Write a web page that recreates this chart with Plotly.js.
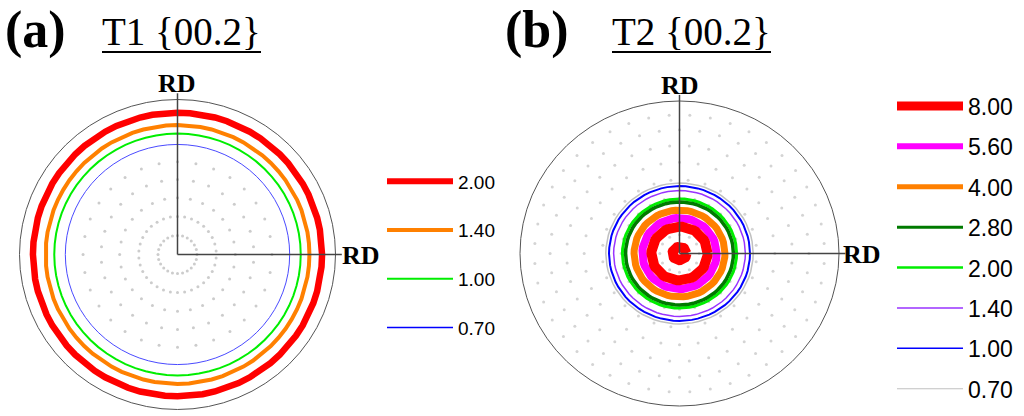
<!DOCTYPE html>
<html><head><meta charset="utf-8">
<script src="https://cdn.plot.ly/plotly-3.0.1.min.js"></script>
<style>html,body{margin:0;padding:0;background:#fff}#chart{width:1024px;height:416px}</style>
</head><body><div id="chart"></div>
<script>
// ---- data: contour levels and ring radii (fraction of the pole-figure radius) ----
const levelsA = ['2.00', '1.40', '1.00', '0.70'];
const ringRadiiA = [[0.915], [0.835], [0.78], [0.71]];
const colorsA = ['#ff0000', '#ff8000', '#00ee00', '#4a4aff'];
const legendColorsA = ['#ff0000', '#ff8000', '#00ee00', '#0000ff'];

const levelsB = ['8.00', '5.60', '4.00', '2.80', '2.00', '1.40', '1.00', '0.70'];
const ringRadiiB = [[0.176, 0.044], [0.233], [0.285], [0.338], [0.358], [0.413], [0.442], [0.462]];
const colorsB = ['#ff0000', '#ff00ff', '#ff8000', '#007a00', '#00ee00', '#9933ff', '#0000ff', '#c0c0c0'];

// measurement grid (tilt angles in degrees, points per ring)
const gridTiltA = [10, 20, 30, 40, 50];
const gridCountA = [24, 34, 28, 30, 32];
const gridTiltB = [10, 20, 30, 40, 50, 60, 70, 80];
const gridCountB = [12, 18, 24, 28, 32, 36, 40, 44];

// ---- styles ----
const ringWidthA = [6.5, 4, 2, 1];
const legendWidthA = [6, 4, 2, 1.5];
const ringWidthB = [10, 8, 7, 3.5, 3, 1.5, 2, 1.5];
const legendWidthB = [9, 6, 5, 3, 2.5, 1.5, 1.5, 1];

const W = 1024, H = 416;
const pA = {cx: 177.5, cy: 254.5, rx: 158, ry: 155, x0: 0, x1: 372};
const pB = {cx: 679.5, cy: 253.5, rx: 159.5, ry: 152.5, x0: 495, x1: 885};
const yTop = 60, yBot = 416;

function ax(p) {
  const common = {visible: false, showgrid: false, zeroline: false, fixedrange: true};
  return {
    x: Object.assign({domain: [p.x0 / W, p.x1 / W], range: [(p.x0 - p.cx) / p.rx, (p.x1 - p.cx) / p.rx]}, common),
    y: Object.assign({domain: [1 - yBot / H, 1 - yTop / H], range: [(p.cy - yBot) / p.ry, (p.cy - yTop) / p.ry]}, common)
  };
}
function ring(r, n) {
  const x = [], y = [];
  for (let i = 0; i <= n; i++) { const a = 2 * Math.PI * i / n; x.push(r * Math.cos(a)); y.push(r * Math.sin(a)); }
  return {x, y};
}
function grid(tilts, counts) {
  const x = [], y = [];
  tilts.forEach((t, k) => {
    const r = Math.sin(t * Math.PI / 360) / Math.sin(Math.PI / 4);
    const n = counts[k];
    for (let i = 0; i < n; i++) { const a = 2 * Math.PI * (i + (k % 2) * 0.5) / n; x.push(r * Math.cos(a)); y.push(r * Math.sin(a)); }
  });
  return {x, y};
}

const traces = [];
const gA = grid(gridTiltA, gridCountA);
traces.push({type: 'scatter', mode: 'markers', x: gA.x, y: gA.y, xaxis: 'x', yaxis: 'y', showlegend: false, hoverinfo: 'skip',
  marker: {size: 3, color: '#cccccc'}});
const gB = grid(gridTiltB, gridCountB);
traces.push({type: 'scatter', mode: 'markers', x: gB.x, y: gB.y, xaxis: 'x2', yaxis: 'y2', showlegend: false, hoverinfo: 'skip',
  marker: {size: 3, color: '#d4d4d4'}});

// rings (outer levels first so inner ones sit on top)
for (let i = levelsA.length - 1; i >= 0; i--) {
  ringRadiiA[i].forEach(r => {
    const c = ring(r, 72);
    traces.push({type: 'scatter', mode: 'lines', x: c.x, y: c.y, xaxis: 'x', yaxis: 'y', showlegend: false, hoverinfo: 'skip',
      line: {color: colorsA[i], width: ringWidthA[i]}});
  });
}
for (let i = levelsB.length - 1; i >= 0; i--) {
  ringRadiiB[i].forEach(r => {
    const c = ring(r, 72);
    traces.push({type: 'scatter', mode: 'lines', x: c.x, y: c.y, xaxis: 'x2', yaxis: 'y2', showlegend: false, hoverinfo: 'skip',
      line: {color: colorsB[i], width: ringWidthB[i]}});
  });
}
// legend entries
levelsA.forEach((lv, i) => traces.push({type: 'scatter', mode: 'lines', x: [null], y: [null], xaxis: 'x', yaxis: 'y',
  name: lv, legend: 'legend', legendgroup: 'a' + i, line: {color: legendColorsA[i], width: legendWidthA[i]}}));
levelsB.forEach((lv, i) => traces.push({type: 'scatter', mode: 'lines', x: [null], y: [null], xaxis: 'x2', yaxis: 'y2',
  name: lv, legend: 'legend2', legendgroup: 'b' + i, line: {color: colorsB[i], width: legendWidthB[i]}}));

const A = ax(pA), B = ax(pB);
function axesLines(xr, yr) {
  return [
    {type: 'circle', xref: xr, yref: yr, x0: -1, x1: 1, y0: -1, y1: 1, line: {color: '#555555', width: 1}},
    {type: 'line', xref: xr, yref: yr, x0: 0, y0: 0, x1: 0, y1: 1.04, line: {color: '#444444', width: 1.5}},
    {type: 'line', xref: xr, yref: yr, x0: 0, y0: 0, x1: 1.04, y1: 0, line: {color: '#444444', width: 1.5}}
  ];
}
function underline(x0, x1, y) {
  return {type: 'line', xref: 'paper', yref: 'paper', x0: x0 / W, x1: x1 / W, y0: 1 - y / H, y1: 1 - y / H, line: {color: '#000', width: 2}};
}
const serif = 'Liberation Serif, Times New Roman, serif';
const rdFont = {family: serif, size: 26, color: '#000'};
const annotations = [
  {xref: 'paper', yref: 'paper', x: 177 / W, y: 1 - 84 / H, text: '<b>RD</b>', showarrow: false, font: rdFont, xanchor: 'center', yanchor: 'middle'},
  {xref: 'paper', yref: 'paper', x: 340 / W, y: 1 - 255 / H, text: '<b>RD</b>', showarrow: false, font: rdFont, xanchor: 'left', yanchor: 'middle'},
  {xref: 'paper', yref: 'paper', x: 680 / W, y: 1 - 85 / H, text: '<b>RD</b>', showarrow: false, font: rdFont, xanchor: 'center', yanchor: 'middle'},
  {xref: 'paper', yref: 'paper', x: 841 / W, y: 1 - 254 / H, text: '<b>RD</b>', showarrow: false, font: rdFont, xanchor: 'left', yanchor: 'middle'},
  {xref: 'paper', yref: 'paper', x: 3 / W, y: 1 - 30 / H, text: '<b>(a)</b>', showarrow: false, xanchor: 'left', yanchor: 'middle',
    font: {family: serif, size: 52, color: '#000'}},
  {xref: 'paper', yref: 'paper', x: 503 / W, y: 1 - 30 / H, text: '<b>(b)</b>', showarrow: false, xanchor: 'left', yanchor: 'middle',
    font: {family: serif, size: 52, color: '#000'}},
  {xref: 'paper', yref: 'paper', x: 100 / W, y: 1 - 32 / H, text: 'T1 {00.2}', showarrow: false, xanchor: 'left', yanchor: 'middle',
    font: {family: serif, size: 39, color: '#000'}},
  {xref: 'paper', yref: 'paper', x: 610 / W, y: 1 - 32 / H, text: 'T2 {00.2}', showarrow: false, xanchor: 'left', yanchor: 'middle',
    font: {family: serif, size: 39, color: '#000'}}
];

const layout = {
  width: W, height: H, margin: {l: 0, r: 0, t: 0, b: 0}, paper_bgcolor: '#fff', plot_bgcolor: 'rgba(0,0,0,0)',
  showlegend: true, hovermode: false,
  xaxis: A.x, yaxis: A.y, xaxis2: B.x, yaxis2: B.y,
  shapes: axesLines('x', 'y').concat(axesLines('x2', 'y2'), [underline(102, 261, 52), underline(612, 771, 52)]),
  annotations: annotations,
  legend: {x: 382 / W, y: 1 - 162.5 / H, xanchor: 'left', yanchor: 'top', bgcolor: 'rgba(0,0,0,0)', itemwidth: 66,
    tracegroupgap: 21, font: {family: 'Liberation Sans, Arial, sans-serif', size: 19, color: '#000'}},
  legend2: {x: 892 / W, y: 1 - 84.5 / H, xanchor: 'left', yanchor: 'top', bgcolor: 'rgba(0,0,0,0)', itemwidth: 66,
    tracegroupgap: 7.5, font: {family: 'Liberation Sans, Arial, sans-serif', size: 23, color: '#000'}}
};
Plotly.newPlot('chart', traces, layout, {staticPlot: true, displayModeBar: false});
</script>
</body></html>
